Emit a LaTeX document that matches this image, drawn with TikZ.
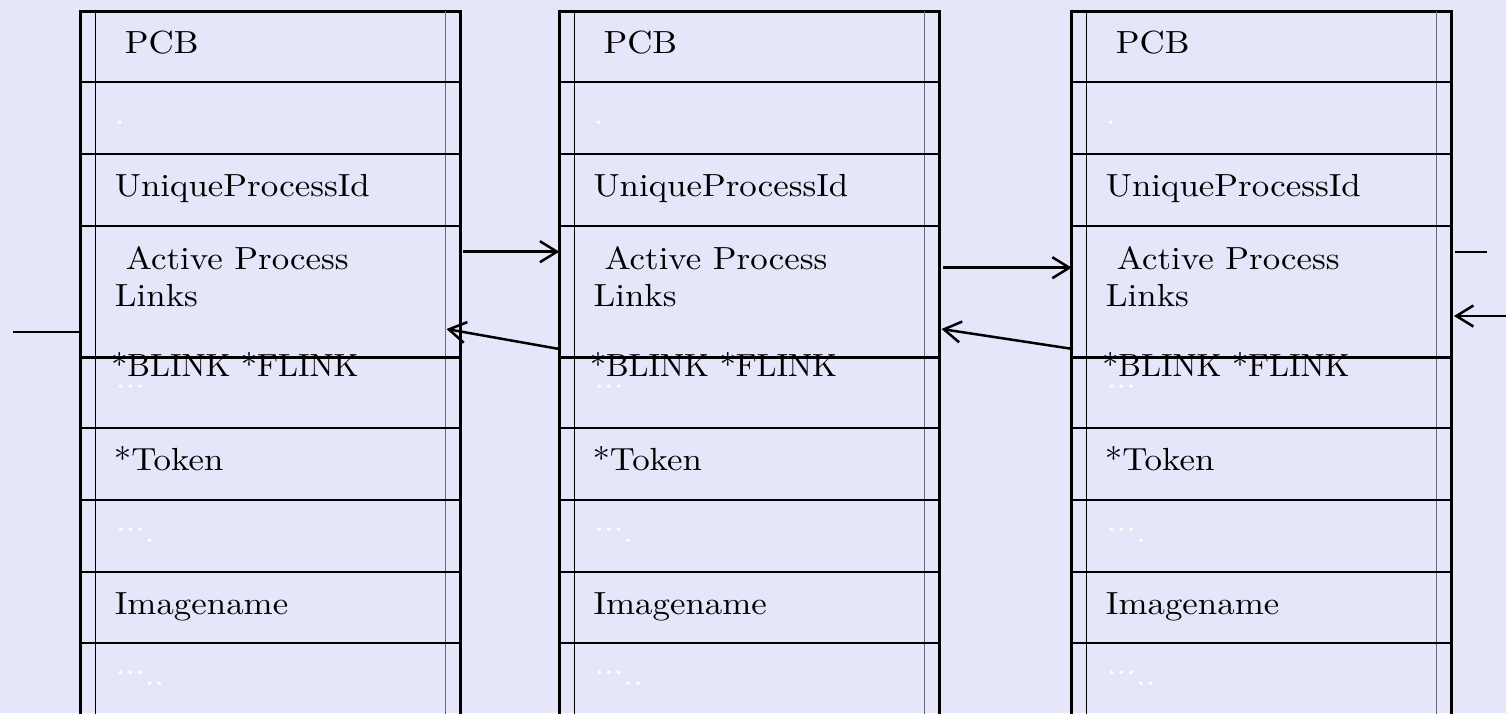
\documentclass[tikz,border=0pt]{standalone}
\usepackage{fontspec}
\setmainfont{lmroman10-regular.otf}[FakeStretch=1.09]
\newfontfamily\narrowlm{lmroman10-regular.otf}
\usetikzlibrary{arrows.meta}
\definecolor{bg}{RGB}{230,230,250}
\definecolor{innergray}{RGB}{105,105,115}
\newcommand{\midell}{\raisebox{11pt}{...}}
\begin{document}
\begin{tikzpicture}[x=1pt,y=-1pt,
  outer/.style={line width=3pt,black},
  rowline/.style={line width=2.7pt,black},
  innerl/.style={line width=1.4pt,black},
  innerr/.style={line width=1.4pt,innergray},
  lbl/.style={anchor=base west,inner sep=0pt,font=\fontsize{32}{36}\selectfont,text=black},
  ghost/.style={lbl,text=white},
  link/.style={line width=2.5pt,-{Straight Barb[length=17pt,width=21pt,line width=2.5pt]}},
  stub/.style={line width=2.5pt}]
\useasboundingbox[fill=bg] (0,0) rectangle (1506,713);
\foreach \c/\x in {1/80.7,2/559.3,3/1071.7}{
  \draw[outer] (\x,715) -- (\x,11) -- ({\x+380},11) -- ({\x+380},715);
  \draw[innerl] ({\x+15},11) -- ({\x+15},715);
  \draw[innerr] ({\x+365},11) -- ({\x+365},715);
  \foreach \y in {82,154,226,357.5,428,500,572,643}
    \draw[rowline] (\x,\y) -- ({\x+380},\y);
  \node[lbl] (pcb\c) at ({\x+44},53) {PCB};
  \node[ghost] (dot\c) at ({\x+34},124) {.};
  \node[lbl] (uid\c) at ({\x+34},196) {UniqueProcessId};
  \node[lbl] (act\c) at ({\x+45},269) {Active Process};
  \node[lbl] (lnk\c) at ({\x+34},306) {Links};
  \node[lbl] (blk\c) at ({\x+30.5},376) {\narrowlm *BLINK *FLINK};
  \node[ghost] (ella\c) at ({\x+35},399) {\midell};
  \node[lbl] (tok\c) at ({\x+33},470) {*Token};
  \node[ghost] (ellb\c) at ({\x+35},542) {\midell.};
  \node[lbl] (img\c) at ({\x+34},614) {Imagename};
  \node[ghost] (ellc\c) at ({\x+35},685) {\midell..};
}
% connector end points
\coordinate (f1s) at (463,251.7);
\coordinate (f1e) at (559.3,251.7);
\coordinate (b1s) at (559.3,349);
\coordinate (b1e) at (446.5,329);
\coordinate (f2s) at (943,267.7);
\coordinate (f2e) at (1071.7,267.7);
\coordinate (b2s) at (1073,349);
\coordinate (b2e) at (941.5,329);
\coordinate (ls) at (12.7,332);
\coordinate (le) at (80.7,332);
\coordinate (rs) at (1455,252);
\coordinate (re) at (1487,252);
\coordinate (ras) at (1506,316);
\coordinate (rae) at (1454,316);
\draw[link] (f1s) -- (f1e);
\draw[link] (b1s) -- (b1e);
\draw[link] (f2s) -- (f2e);
\draw[link] (b2s) -- (b2e);
\draw[stub] (ls) -- (le);
\draw[stub] (rs) -- (re);
\draw[link] (ras) -- (rae);
\end{tikzpicture}
\end{document}
